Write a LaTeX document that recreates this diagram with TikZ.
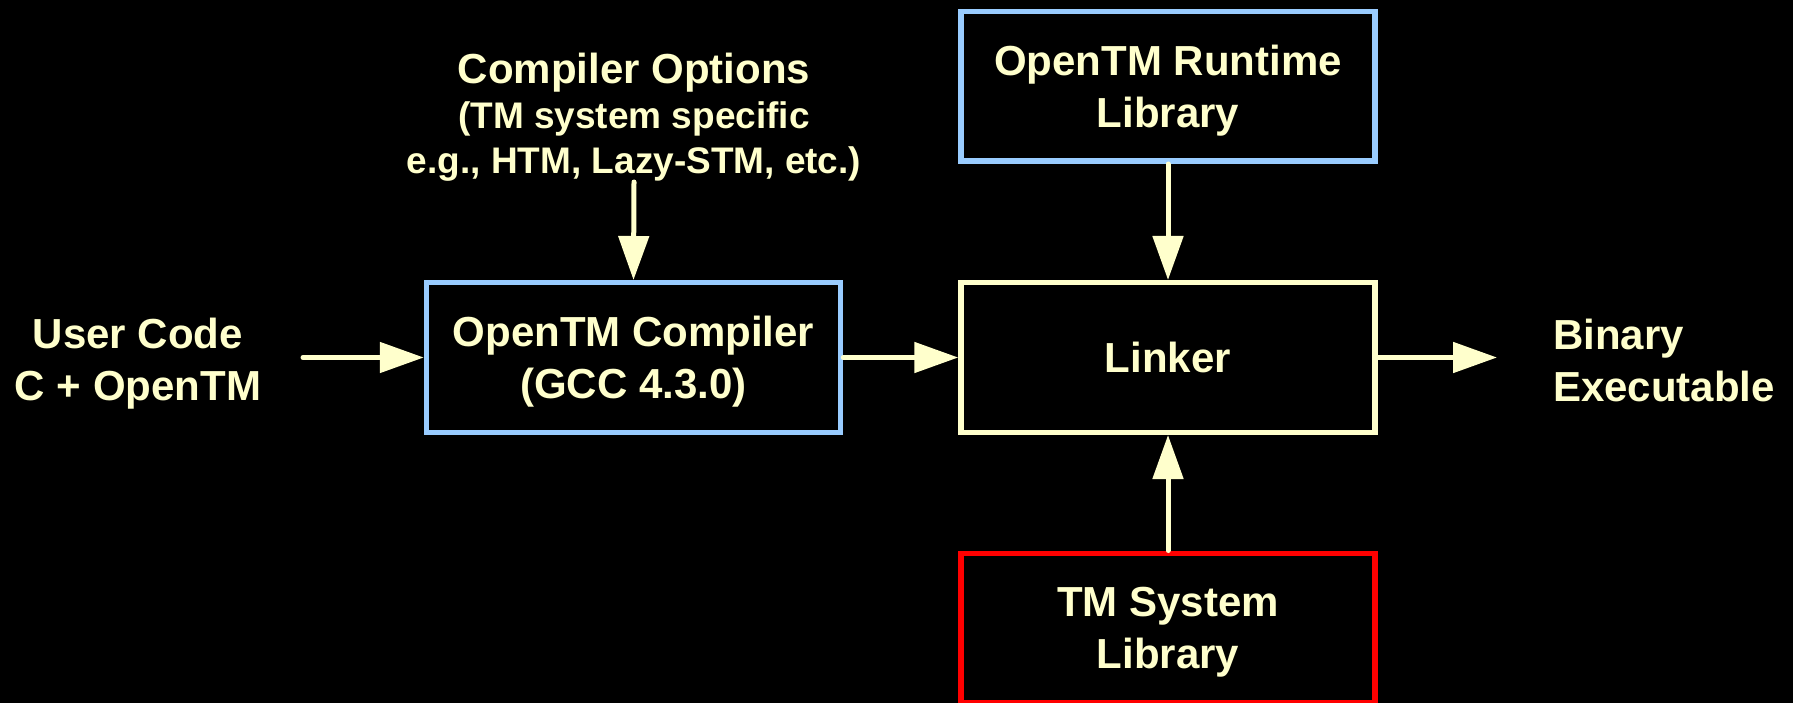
\documentclass[tikz,border=0pt]{standalone}
\usepackage{fontspec}
\setmainfont{Liberation Sans}
\usetikzlibrary{arrows.meta}
\definecolor{cream}{HTML}{FFFFCC}
\definecolor{paleblue}{HTML}{99CCFF}
\definecolor{alertred}{HTML}{FF0000}
\tikzset{
  box/.style={draw, line width=5.5pt, minimum width=414pt, minimum height=149.5pt,
    inner sep=0pt, text=cream, align=center, text depth=-9pt,
    font=\bfseries\fontsize{42}{52}\selectfont},
  plaintext/.style={inner sep=0pt, text=cream, align=center,
    font=\bfseries\fontsize{42}{52}\selectfont},
  flow/.style={draw=cream, line width=5pt, line cap=round,
    -{Triangle[length=44pt,width=30pt]}},
}
\begin{document}
\begin{tikzpicture}[x=1pt,y=-1pt]
  \fill[black] (0,0) rectangle (1793,703);
  \useasboundingbox (0,0) rectangle (1793,703);

  % processing blocks
  \node[box, draw=paleblue] (comp) at (633.5,357.5) {OpenTM Compiler\\(GCC 4.3.0)};
  \node[box, draw=paleblue] (run)  at (1168,86.5)   {OpenTM Runtime\\Library};
  \node[box, draw=cream]    (link) at (1168,357.5)  {Linker};
  \node[box, draw=alertred] (tm)   at (1168,628)    {TM System\\Library};

  % free-standing labels
  \node[plaintext] (user) at (138,364) {User Code\\C + OpenTM};
  \node[plaintext, anchor=west, align=left] (bin) at (1553,360) {Binary\\Executable};
  \node[plaintext, anchor=south] (opts) at (634,182)
    {Compiler Options\\[-7pt]
     {\fontsize{37}{44}\selectfont (TM system specific}\\[-7pt]
     {\fontsize{37}{44}\selectfont e.g., HTM, Lazy-STM, etc.)}};

  \coordinate (userout) at (303,357.5);
  \coordinate (binin) at (1497,357.5);

  % data flow
  \draw[flow] (userout) -- (comp.west);
  \draw[flow] (opts.south) -- (comp.north);
  \draw[flow] (comp.east) -- (link.west);
  \draw[flow] (run.south) -- (link.north);
  \draw[flow] (tm.north) -- (link.south);
  \draw[flow] (link.east) -- (binin);
\end{tikzpicture}
\end{document}
